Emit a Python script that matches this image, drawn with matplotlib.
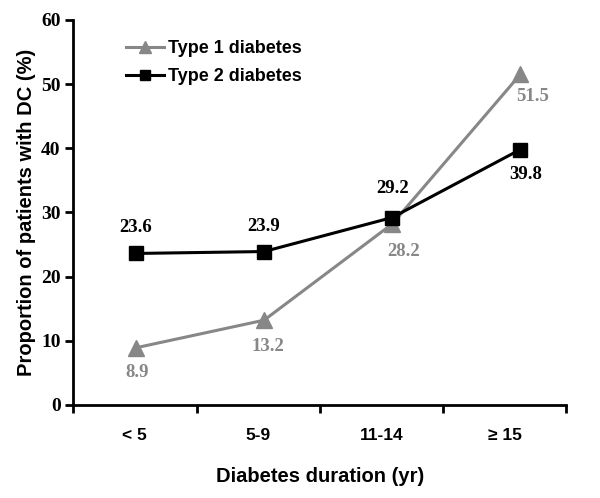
import matplotlib.pyplot as plt
import numpy as np

# data
categories = ["< 5", "5-9", "11-14", "\u2265 15"]
type1 = [8.9, 13.2, 28.2, 51.5]
type2 = [23.6, 23.9, 29.2, 39.8]

sans = ["Liberation Sans", "DejaVu Sans"]
serif = ["Liberation Serif", "DejaVu Serif"]
grey = "#878787"

fig = plt.figure(figsize=(6, 4.98), dpi=100)
ax = fig.add_axes([0.122, 0.187, 0.822, 0.773])

x = np.arange(len(categories))
ax.plot(x, type1, color=grey, lw=2.2, marker="^", ms=11, label="Type 1 diabetes")
ax.plot(x, type2, color="black", lw=2.2, marker="s", ms=10, label="Type 2 diabetes")

# value labels (offsets in points): type 1 below, type 2 above
t1_off = [(1, -18), (3, -19), (8, -20), (9, -16)]
t2_off = [(0, 19), (0, 18), (0, 21), (4, -18)]
for xi, v, off in zip(x, type1, t1_off):
    ax.annotate(f"{v}", (xi, v), xytext=off, textcoords="offset points",
                ha="center", va="center", color=grey, fontsize=13.5,
                fontweight="bold", family=serif)
for xi, v, off in zip(x, type2, t2_off):
    ax.annotate(f"{v}", (xi, v), xytext=off, textcoords="offset points",
                ha="center", va="center", color="black", fontsize=13.5,
                fontweight="bold", family=serif)

# the category band is slightly narrower than the point spacing in the original
left, right = -0.49, 3.36
band = (right - left) / 4
edges = left + band * np.arange(5)
ax.set_xlim(left, right)
ax.set_ylim(0, 60)
ax.set_yticks(range(0, 61, 10))
ax.set_xticks(edges)
ax.set_xticklabels([])
ax.set_xticks(edges[:-1] + band / 2, minor=True)
ax.set_xticklabels(categories, minor=True, fontsize=12.5, fontweight="bold", family=sans)
ax.tick_params(axis="x", which="minor", length=0, pad=17)
ax.tick_params(axis="x", which="major", length=6, width=2, direction="out")
ax.tick_params(axis="y", length=6, width=2, direction="out", pad=3)
for lab in ax.get_yticklabels():
    lab.set_fontsize(14)
    lab.set_fontweight("bold")
    lab.set_family(serif)

for s in ["top", "right"]:
    ax.spines[s].set_visible(False)
for s in ["left", "bottom"]:
    ax.spines[s].set_linewidth(2)

ax.set_xlabel("Diabetes duration (yr)", fontsize=14.5, fontweight="bold", family=sans, labelpad=17)
ax.set_ylabel("Proportion of patients with DC (%)", fontsize=14.5, fontweight="bold", family=sans, labelpad=4)

leg = ax.legend(loc="upper left", bbox_to_anchor=(0.075, 0.99), frameon=False,
                prop={"family": sans, "weight": "bold", "size": 13},
                handlelength=2.1, handletextpad=0.2, labelspacing=0.6,
                markerscale=0.75)

fig.savefig("out.png", dpi=100)
